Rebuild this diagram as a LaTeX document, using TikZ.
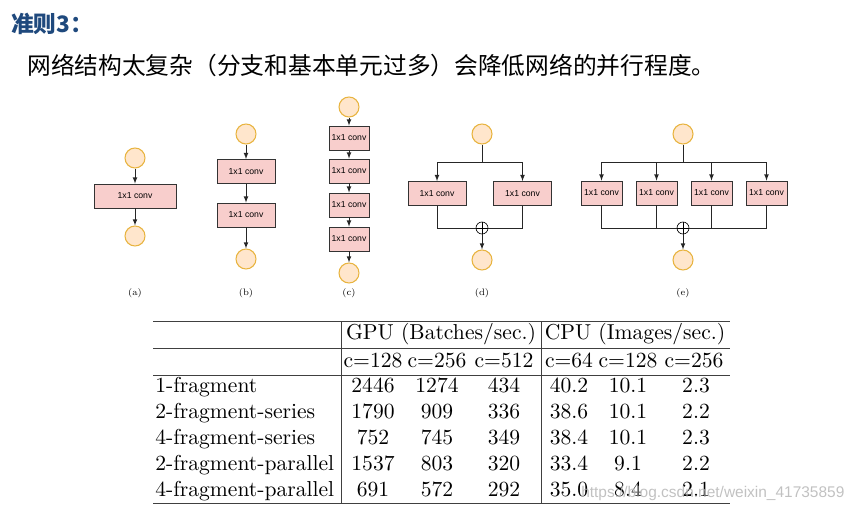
\documentclass[tikz,border=0pt]{standalone}
\usepackage{fontspec}
\newfontfamily\cjk{Noto Sans CJK SC}
\newfontfamily\convfont{Liberation Sans}
\newfontfamily\tabfont{lmroman10-regular.otf}
\usetikzlibrary{arrows}
\definecolor{titleblue}{RGB}{31,73,125}
\definecolor{convfill}{RGB}{248,206,204}
\definecolor{circfill}{RGB}{255,230,204}
\definecolor{circline}{RGB}{232,180,64}

\begin{document}
\begin{tikzpicture}[x=0.75pt,y=-0.75pt,
  circ/.style={circle,draw=circline,fill=circfill,line width=0.8pt,minimum size=15pt,inner sep=0pt},
  conv/.style={draw=black!80,fill=convfill,line width=0.6pt,minimum width=#1,minimum height=18pt,inner sep=0pt,font=\convfont\fontsize{6.5}{7}\selectfont},
  addnode/.style={circle,draw,line width=0.5pt,minimum size=9pt,inner sep=0pt,
    path picture={\draw[line width=0.5pt] (path picture bounding box.north) -- (path picture bounding box.south)
      (path picture bounding box.west) -- (path picture bounding box.east);}},
  arr/.style={-latex,line width=0.6pt,black!85},
  ln/.style={line width=0.6pt,black!85},
  sublabel/.style={font=\fontsize{7}{8}\selectfont},
  tabrule/.style={line width=0.6pt,black!75},
  tab/.style={font=\tabfont\fontsize{16.2}{19.4}\selectfont,inner sep=0pt,anchor=base}]
\useasboundingbox (0,0) rectangle (856,513);

%heading
\node[anchor=west,inner sep=0pt,text=titleblue,font=\cjk\bfseries\fontsize{17}{18}\selectfont] (title) at (11,24) {准则3：};
\node[anchor=west,inner sep=0pt,font=\cjk\fontsize{17.8}{20}\selectfont] (rule) at (27,65) {网络结构太复杂（分支和基本单元过多）会降低网络的并行程度。};

%(a)
\node[circ] (ain) at (135,158) {};
\node[conv=61.5pt] (aconv) at (135,196) {1x1 conv};
\node[circ] (aout) at (135,236) {};
\draw[arr] (ain) -- (aconv);
\draw[arr] (aconv) -- (aout);
\node[sublabel] (alab) at (135,293) {(a)};

%(b)
\node[circ] (bin) at (246,134) {};
\node[conv=43.5pt] (b1) at (246,171.5) {1x1 conv};
\node[conv=43.5pt] (b2) at (246,215) {1x1 conv};
\node[circ] (bout) at (246,259) {};
\draw[arr] (bin) -- (b1);
\draw[arr] (b1) -- (b2);
\draw[arr] (b2) -- (bout);
\node[sublabel] (blab) at (246,293) {(b)};

%(c)
\node[circ] (cin) at (349,107) {};
\foreach \y [count=\i] in {138,171,205,239}
  \node[conv=30pt] (c\i) at (349,\y) {1x1 conv};
\node[circ] (cout) at (349,273) {};
\draw[arr] (cin) -- (c1);
\draw[arr] (c1) -- (c2);
\draw[arr] (c2) -- (c3);
\draw[arr] (c3) -- (c4);
\draw[arr] (c4) -- (cout);
\node[sublabel] (clab) at (349,293) {(c)};

%(d)
\node[circ] (din) at (482,134) {};
\coordinate (dsplit) at (482,162);
\node[conv=43.5pt] (d1) at (437,193.5) {1x1 conv};
\node[conv=43.5pt] (d2) at (522.5,193.5) {1x1 conv};
\node[addnode] (dsum) at (482,228) {};
\node[circ] (dout) at (482,260) {};
\draw[ln] (din) -- (dsplit);
\draw[arr] (dsplit) -| (d1);
\draw[arr] (dsplit) -| (d2);
\draw[ln] (d1) |- (dsum);
\draw[ln] (d2) |- (dsum);
\draw[arr] (dsum) -- (dout);
\node[sublabel] (dlab) at (482,293) {(d)};

%(e)
\node[circ] (ein) at (683,134) {};
\coordinate (esplit) at (683,162);
\node[addnode] (esum) at (683,228) {};
\node[circ] (eout) at (683,260) {};
\draw[ln] (ein) -- (esplit);
\foreach \x [count=\i] in {601.5,656.5,711.5,766.5} {
  \node[conv=30.75pt] (e\i) at (\x,193) {1x1 conv};
  \draw[arr] (esplit) -| (e\i);
  \draw[ln] (e\i) |- (esum);
}
\draw[arr] (esum) -- (eout);
\node[sublabel] (elab) at (683,293) {(e)};

%table
\draw[tabrule] (153,321) -- (730,321);
\draw[tabrule] (153,348) -- (730,348);
\draw[tabrule] (153,375) -- (730,375);
\draw[tabrule] (153,503) -- (730,503);
\draw[tabrule] (341,321) -- (341,503);
\draw[tabrule] (541,321) -- (541,503);

\node[tab] (gpu) at (441,339) {GPU (Batches/sec.)};
\node[tab] (cpu) at (635,339) {CPU (Images/sec.)};
\foreach \x/\t [count=\i] in {373/c=128,437/c=256,504/c=512,569/c=64,628/c=128,694/c=256}
  \node[tab] (h\i) at (\x,367) {\t};

\foreach \y/\name/\ga/\gb/\gc/\ca/\cb/\cc [count=\i] in {
    392/1-fragment/2446/1274/434/40.2/10.1/2.3,
    418/2-fragment-series/1790/909/336/38.6/10.1/2.2,
    444/4-fragment-series/752/745/349/38.4/10.1/2.3,
    470/2-fragment-parallel/1537/803/320/33.4/9.1/2.2,
    496/4-fragment-parallel/691/572/292/35.0/8.4/2.1} {
  \node[tab,anchor=base west] (r\i) at (155,\y) {\name};
  \node[tab] (r\i g1) at (373,\y) {\ga};
  \node[tab] (r\i g2) at (437,\y) {\gb};
  \node[tab] (r\i g3) at (504,\y) {\gc};
  \node[tab] (r\i c1) at (569,\y) {\ca};
  \node[tab] (r\i c2) at (628,\y) {\cb};
  \node[tab] (r\i c3) at (696,\y) {\cc};
}

\node[anchor=west,inner sep=0pt,text=black!30,text opacity=0.8,font=\convfont\fontsize{11.6}{13}\selectfont] (mark) at (581,493) {https://blog.csdn.net/weixin\_41735859};
\end{tikzpicture}
\end{document}
